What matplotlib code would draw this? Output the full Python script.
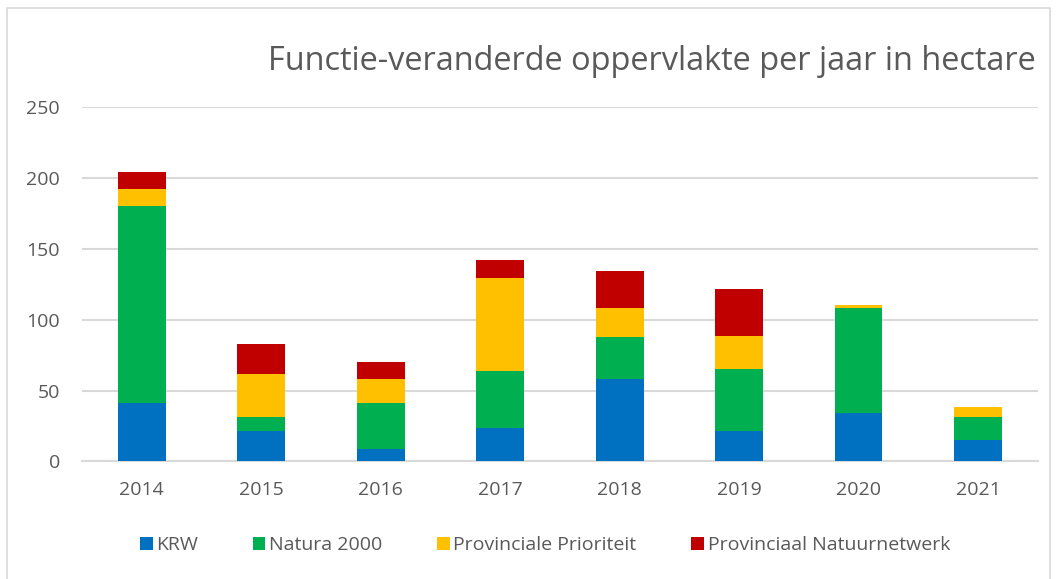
import matplotlib.pyplot as plt
from matplotlib.patches import Rectangle
import numpy as np

jaren = ['2014', '2015', '2016', '2017', '2018', '2019', '2020', '2021']
krw = [41.2, 21.6, 8.7, 23.5, 58.1, 21.4, 34.3, 15.0]
natura = [139.4, 10.1, 32.5, 40.5, 30.1, 44.2, 74.4, 16.7]
prio = [11.8, 30.4, 16.7, 65.8, 20.5, 23.1, 1.6, 7.1]
pnn = [12.0, 20.9, 12.2, 12.7, 25.6, 33.4, 0.0, 0.0]

series = [('KRW', krw, '#0070c0'),
          ('Natura 2000', natura, '#00b050'),
          ('Provinciale Prioriteit', prio, '#ffc000'),
          ('Provinciaal Natuurnetwerk', pnn, '#c00000')]

plt.rcParams['font.family'] = ['Open Sans', 'DejaVu Sans']
tekst = '#595959'

fig = plt.figure(figsize=(10.56, 5.79), dpi=100)
ax = fig.add_axes([0.0777, 0.203, 0.905, 0.6114])

x = np.arange(len(jaren))
onder = np.zeros(len(jaren))
for naam, waarden, kleur in series:
    ax.bar(x, waarden, 0.4, bottom=onder, color=kleur, label=naam, zorder=3)
    onder += np.array(waarden)

ax.set_xlim(-0.5, len(jaren) - 0.5)
ax.set_ylim(0, 250)
ax.set_yticks(range(0, 251, 50))
ax.set_xticks(x)
ax.set_xticklabels(jaren)
ax.grid(axis='y', color='#d9d9d9', linewidth=1.5, zorder=0)
for s in ['top', 'right', 'left']:
    ax.spines[s].set_visible(False)
ax.spines['bottom'].set_color('#d9d9d9')
ax.spines['bottom'].set_linewidth(1.5)
ax.tick_params(length=0, labelsize=14, colors=tekst)
ax.tick_params(axis='x', pad=14)
ax.tick_params(axis='y', pad=16)

fig.text(0.981, 0.893, 'Functie-veranderde oppervlakte per jaar in hectare',
         ha='right', va='center', fontsize=23.4, color=tekst)

fig.legend(loc='center', bbox_to_anchor=(0.516, 0.058), ncol=4, frameon=False,
           fontsize=14, labelcolor=tekst, handlelength=0.65, handleheight=0.65,
           handletextpad=0.2, columnspacing=2.8)

fig.patches.append(Rectangle((0.0066, -0.01), 0.988, 0.996, transform=fig.transFigure,
                             fill=False, edgecolor='#d9d9d9', linewidth=1.2))

fig.savefig('out.png', dpi=100)
